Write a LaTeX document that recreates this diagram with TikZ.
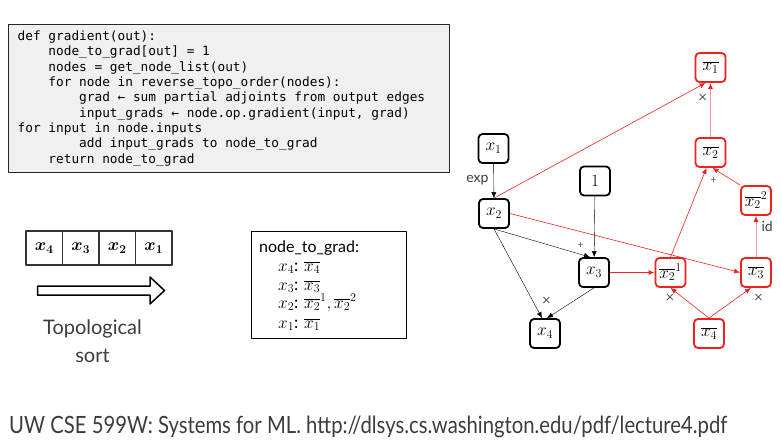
\documentclass[tikz,border=0pt]{standalone}
\usepackage{fontspec}
\usepackage{bm}
\setmainfont{Lato}
\newfontfamily\codefont{DejaVu Sans Mono}
\usetikzlibrary{arrows.meta}
\definecolor{gradred}{RGB}{238,34,28}
\definecolor{palered}{RGB}{244,150,150}
\definecolor{codebg}{RGB}{240,240,240}
\definecolor{txtgray}{RGB}{60,60,60}
\begin{document}
\begin{tikzpicture}[x=1pt, y=-1pt, >={Latex[length=6pt,width=5pt]}, line join=round,
  fwd/.style={draw, rounded corners=4pt, line width=1.8pt, minimum width=30pt, minimum height=29pt, inner sep=0pt, font=\fontsize{18}{20}\selectfont},
  bwd/.style={fwd, draw=gradred},
  cell/.style={draw=black!80, line width=1.2pt, minimum width=36.5pt, minimum height=34pt, inner sep=0pt, font=\fontsize{17}{20}\selectfont},
  lbl/.style={font=\fontsize{14}{16}\selectfont, text=txtgray, inner sep=1pt},
  op/.style={font=\fontsize{15}{16}\selectfont\addfontfeatures{FakeBold=-0.2}, text=txtgray!90, inner sep=1pt},
  back/.style={gradred, line width=0.6pt},
  pale/.style={palered, line width=1pt, -{Latex[length=6pt,width=5pt,color=gradred]}}]
\useasboundingbox (0,0) rectangle (781,447);
\node[draw=black!85, fill=codebg, line width=0.8pt, minimum width=441pt, minimum height=148pt, anchor=north west] (codebox) at (8,24) {};
\foreach \n/\t [count=\i] in {0/{def gradient(out):}, 4/{node\_to\_grad[out] = 1}, 4/{nodes = get\_node\_list(out)},
    4/{for node in reverse\_topo\_order(nodes):}, 8/{grad ← sum partial adjoints from output edges},
    8/{input\_grads ← node.op.gradient(input, grad)}, 0/{for input in node.inputs},
    8/{add input\_grads to node\_to\_grad}, 4/{return node\_to\_grad}}
  \node[anchor=base west, inner sep=0pt, font=\codefont\fontsize{12.77}{15}\selectfont] (code\i) at (17.5+\n*7.69, 24.9+\i*15.375) {\t};
\foreach \v [count=\i] in {4,3,2,1}
  \node[cell] (t\v) at (7.75+36.5*\i, 248) {$\bm{x_{\v}}$};
\draw[line width=1.5pt] (37.5,286)--(150,286)--(150,277)--(164.5,290.5)--(150,304)--(150,295)--(37.5,295)--cycle;
\node[align=center, font=\fontsize{20}{28}\selectfont, text=txtgray] (topo) at (92.5,341) {Topological\\sort};
\node[draw, line width=1pt, minimum width=155pt, minimum height=107pt, anchor=north west] (ntg) at (251,231) {};
\node[anchor=base west, inner sep=0pt, font=\fontsize{16}{18}\selectfont] (ntgtitle) at (259,252) {node\_to\_grad:};
\foreach \y/\t in {271/{$x_4$: $\overline{x_4}$}, 290/{$x_3$: $\overline{x_3}$}, 308/{$x_2$: $\overline{x_2}^1, \overline{x_2}^2$}, 328/{$x_1$: $\overline{x_1}$}}
  \node[anchor=base west, inner sep=0pt, font=\fontsize{17}{18}\selectfont] (ntg\y) at (278,\y) {\t};
\node[fwd] (x1) at (493.5,148.5) {$x_1$};
\node[fwd] (x2) at (494,213.5) {$x_2$};
\node[fwd] (n1) at (595,181) {$1$};
\node[fwd] (x3) at (594,272.5) {$x_3$};
\node[fwd] (x4) at (545,333.5) {$x_4$};
\node[bwd] (xb1) at (710.5,67.5) {$\overline{x_1}$};
\node[bwd] (xb2) at (710.5,152.5) {$\overline{x_2}$};
\node[bwd] (xb22) at (756,200.5) {$\overline{x_2}^2$};
\node[bwd] (xb21) at (670.5,272.5) {$\overline{x_2}^1$};
\node[bwd] (xb3) at (756,272.5) {$\overline{x_3}$};
\node[bwd] (xb4) at (709,333.5) {$\overline{x_4}$};
\draw[->] (x1) -- node[lbl, left=4pt, pos=0.47] (lexp) {exp} (x2);
\draw[->] (n1) -- (x3);
\draw[->] (x2.south) -- node[op, pos=0.9, above=5pt, font=\fontsize{10}{12}\selectfont] (lplus) {+} ([xshift=-4pt]x3.north);
\draw[->] (x2.south) -- node[op, pos=0.81, right=8pt] (ltimes) {×} ([xshift=-3pt]x4.north);
\draw[->] (x3.south) -- ([xshift=2pt]x4.north);
\draw[->, back] (x2.north) -- ([xshift=-5pt]xb1.south);
\draw[->, back] (x2.east) -- (xb3.west);
\draw[->, back, line width=1.1pt] (x3) -- (xb21);
\draw[->, back] (xb21.north) -- ([xshift=-4pt]xb2.south);
\draw[->, back] (xb22.north west) -- node[op, pos=0.7, below left=3pt, font=\fontsize{10}{12}\selectfont] (lsum) {+} ([xshift=2pt]xb2.south);
\draw[pale] (xb2) -- node[op, pos=0.71, left=2pt] (lmul1) {×} (xb1);
\draw[pale] (xb3) -- node[lbl, pos=0.74, right=4pt] (lid) {id} (xb22);
\draw[->, back] (xb4.north) -- node[op, pos=0.66, left=8pt] (lmul2) {×} (xb21.south);
\draw[->, back] (xb4.north) -- node[op, pos=0.66, right=16pt] (lmul3) {×} ([xshift=-5pt]xb3.south);
\node[anchor=west, inner sep=0pt, text=txtgray] (caption) at (9,427) {\resizebox{718pt}{17.5pt}{UW CSE 599W: Systems for ML. http://dlsys.cs.washington.edu/pdf/lecture4.pdf}};
\end{tikzpicture}
\end{document}
